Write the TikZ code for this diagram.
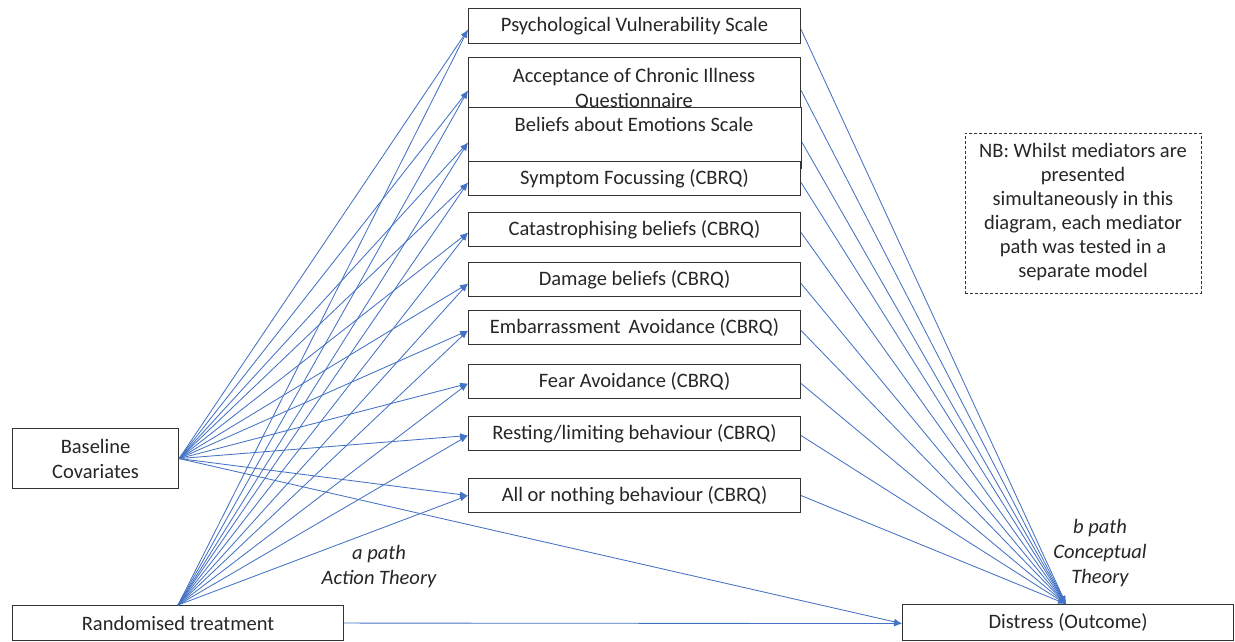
\documentclass[tikz,border=0pt]{standalone}
\usepackage{fontspec}
\setmainfont{Carlito}
\usetikzlibrary{arrows.meta}
\definecolor{lineblue}{HTML}{4472C4}
\definecolor{txt}{HTML}{262626}
\begin{document}
\begin{tikzpicture}[x=1pt,y=-1pt,
  box/.style={draw=black!80, line width=1.1pt, fill=white, inner sep=0pt, text=txt,
    font=\fontsize{20.5}{25}\selectfont, anchor=north west, align=center},
  lbl/.style={inner sep=0pt, text=txt, font=\fontsize{20.5}{25}\selectfont\itshape, align=center},
  conn/.style={draw=lineblue, line width=0.85pt, -{Latex[length=8pt,width=6pt]}}
]
\useasboundingbox (0,0) rectangle (1235,641);
% mediator boxes
\node[box, minimum width=332, minimum height=35] (m1) at (468,8) {Psychological Vulnerability Scale};
\node[box, minimum width=332, minimum height=51] (m2) at (468,57) {};
\node[inner sep=0pt, text=txt, font=\fontsize{20.5}{25}\selectfont, align=center, anchor=north] (m2t) at (634,68) {Acceptance of Chronic Illness\\Questionnaire};
\node[box, minimum width=333, minimum height=61] (m3) at (468,107) {};
\node[inner sep=0pt, text=txt, font=\fontsize{20.5}{25}\selectfont, anchor=north] (m3t) at (634,117) {Beliefs about Emotions Scale};
\node[box, minimum width=332, minimum height=34] (m4) at (468,161) {Symptom Focussing (CBRQ)};
\node[box, minimum width=332, minimum height=34] (m5) at (468,212) {Catastrophising beliefs (CBRQ)};
\node[box, minimum width=332, minimum height=34] (m6) at (468,262) {Damage beliefs (CBRQ)};
\node[box, minimum width=332, minimum height=34] (m7) at (468,310) {Embarrassment\, Avoidance (CBRQ)};
\node[box, minimum width=332, minimum height=34] (m8) at (468,364) {Fear Avoidance (CBRQ)};
\node[box, minimum width=332, minimum height=34] (m9) at (468,416) {Resting/limiting behaviour (CBRQ)};
\node[box, minimum width=332, minimum height=34] (m10) at (468,478) {All or nothing behaviour (CBRQ)};
% sources and outcome
\node[box, minimum width=166, minimum height=60] (bc) at (12,428) {Baseline\\Covariates};
\node[box, minimum width=331, minimum height=35] (rt) at (12,605) {Randomised treatment};
\node[box, minimum width=331, minimum height=36] (do) at (902,604) {Distress (Outcome)};
% note
\node[draw=black!80, line width=0.8pt, dash pattern=on 3pt off 2pt, minimum width=236, minimum height=160,
  anchor=north west, inner sep=0pt] (nb) at (965,133) {};
\node[inner sep=0pt, text=txt, font=\fontsize{20.5}{24}\selectfont, align=center] (nbt) at (1083,212)
  {NB: Whilst mediators are\\presented\\simultaneously in this\\diagram, each mediator\\path was tested in a\\separate model};
% path labels
\node[lbl] (ap) at (379,567) {a path\\Action Theory};
\node[lbl] (bp) at (1100,553) {b path\\Conceptual\\Theory};
% connectors
\foreach \m/\s in {m1/-3.5, m2/-7.5, m3/-4.5, m4/-4, m5/-3, m6/-4, m7/-3, m8/-2, m9/-2, m10/0} {
  \draw[conn] (bc.east) -- ([yshift=\s pt]\m.west);
  \draw[conn] (rt.north) -- ([yshift=\s pt]\m.west);
  \draw[conn] ([yshift=\s pt]\m.east) -- ([xshift=-2pt]do.north);
}
\draw[conn] (bc.east) -- ([yshift=-1pt]do.west);
\draw[conn] (rt.east) -- ([yshift=-1pt]do.west);
\end{tikzpicture}
\end{document}
